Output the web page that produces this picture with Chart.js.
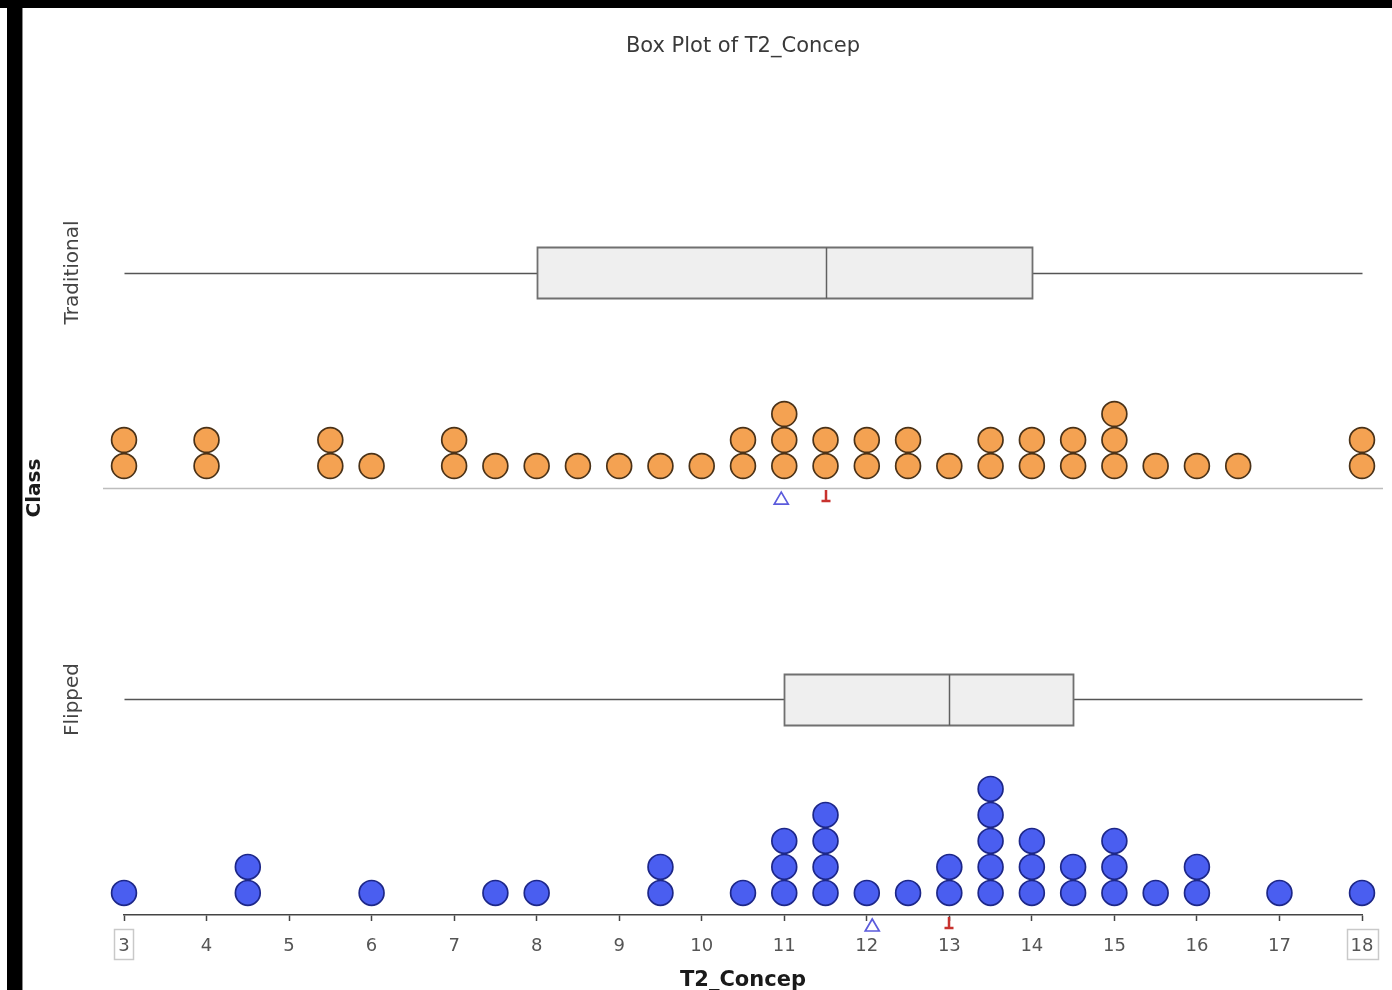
<!DOCTYPE html>
<html>
<head>
<meta charset="utf-8">
<title>Box Plot of T2_Concep</title>
<script src="https://cdn.jsdelivr.net/npm/chart.js@4.4.1/dist/chart.umd.min.js"></script>
<style>
  html, body { margin: 0; padding: 0; background: #fff; }
  body { width: 1392px; height: 990px; position: relative; overflow: hidden; }
  #topbar { position: absolute; left: 0; top: 0; width: 1392px; height: 8px; background: #000; }
  #leftbar { position: absolute; left: 7px; top: 0; width: 15px; height: 990px; background: #000; }
  #leftedge { position: absolute; left: 22px; top: 8px; width: 1px; height: 982px; background: #8a8a8a; }
  #wrap { position: absolute; left: 23px; top: 8px; width: 1369px; height: 982px; }
</style>
</head>
<body>
<div id="topbar"></div>
<div id="leftbar"></div>
<div id="leftedge"></div>
<div id="wrap"><canvas id="chart" width="1369" height="982"></canvas></div>
<script>
// ---- data ----
const classNames = ['Traditional', 'Flipped'];

// individual T2_Concep scores per class
const traditionalScores = [3, 3, 4, 4, 5.5, 5.5, 6, 7, 7, 7.5, 8, 8.5, 9, 9.5, 10,
  10.5, 10.5, 11, 11, 11, 11.5, 11.5, 12, 12, 12.5, 12.5, 13, 13.5, 13.5, 14, 14,
  14.5, 14.5, 15, 15, 15, 15.5, 16, 16.5, 18, 18];
const flippedScores = [3, 4.5, 4.5, 6, 7.5, 8, 9.5, 9.5, 10.5, 11, 11, 11,
  11.5, 11.5, 11.5, 11.5, 12, 12.5, 13, 13, 13.5, 13.5, 13.5, 13.5, 13.5,
  14, 14, 14, 14.5, 14.5, 15, 15, 15, 15.5, 16, 16, 17, 18];

// five-number summaries: [min, Q1, median, Q3, max]
const traditionalBox = [3, 8, 11.5, 14, 18];
const flippedBox = [3, 11, 13, 14.5, 18];

// x axis range / tick step
const xRange = [3, 18];
const xStep = 1;
const boxedTicks = [3, 18];

// ---- layout (y scale measured in dot rows) ----
const Y_MAX = 854 / 26;   // plot height in rows
const BAND = 16.42;       // rows per class band
const DOT0 = 0.85;        // first dot row above the band baseline
const BOX_MID = 8.29;     // box centre above the band baseline
const BOX_HALF = 0.98;    // half box height

const FONT = 'DejaVu Sans';

function mean(a) { return a.reduce((s, v) => s + v, 0) / a.length; }

function stackDots(scores, base) {
  const seen = {};
  return scores.map(v => {
    const k = seen[v] || 0;
    seen[v] = k + 1;
    return { x: v, y: base + DOT0 + k };
  });
}

const groups = [
  { name: classNames[0], base: BAND, scores: traditionalScores, box: traditionalBox },
  { name: classNames[1], base: 0, scores: flippedScores, box: flippedBox }
];

const boxPlotLayer = {
  id: 'boxPlotLayer',
  beforeDatasetsDraw(chart) {
    const { ctx, scales: { x, y } } = chart;
    ctx.save();
    // baseline under the Traditional dots
    const sepY = Math.round(y.getPixelForValue(BAND)) + 0.5;
    ctx.strokeStyle = '#bdbdbd';
    ctx.lineWidth = 1.5;
    ctx.beginPath();
    ctx.moveTo(x.left - 21, sepY);
    ctx.lineTo(x.right + 21, sepY);
    ctx.stroke();

    groups.forEach(g => {
      const [mn, q1, med, q3, mx] = g.box;
      const cy = Math.round(y.getPixelForValue(g.base + BOX_MID)) + 0.5;
      const top = Math.round(y.getPixelForValue(g.base + BOX_MID + BOX_HALF)) + 0.5;
      const bot = Math.round(y.getPixelForValue(g.base + BOX_MID - BOX_HALF)) + 0.5;
      const px = v => Math.round(x.getPixelForValue(v)) + 0.5;

      ctx.strokeStyle = '#555';
      ctx.lineWidth = 1.5;
      ctx.beginPath();
      ctx.moveTo(px(mn), cy); ctx.lineTo(px(q1), cy);
      ctx.moveTo(px(q3), cy); ctx.lineTo(px(mx), cy);
      ctx.stroke();

      ctx.fillStyle = '#efefef';
      ctx.strokeStyle = '#707070';
      ctx.lineWidth = 1.8;
      ctx.beginPath();
      ctx.rect(px(q1), top, px(q3) - px(q1), bot - top);
      ctx.fill();
      ctx.stroke();

      ctx.strokeStyle = '#606060';
      ctx.lineWidth = 1.5;
      ctx.beginPath();
      ctx.moveTo(px(med), top); ctx.lineTo(px(med), bot);
      ctx.stroke();
    });
    ctx.restore();
  },
  afterDatasetsDraw(chart) {
    const { ctx, scales: { x, y } } = chart;
    ctx.save();
    groups.forEach(g => {
      const baseY = y.getPixelForValue(g.base);
      // mean: hollow triangle
      const mx = x.getPixelForValue(mean(g.scores));
      ctx.strokeStyle = '#5b5bdc';
      ctx.lineWidth = 1.7;
      ctx.lineJoin = 'miter';
      ctx.beginPath();
      ctx.moveTo(mx, baseY + 4);
      ctx.lineTo(mx + 7, baseY + 16);
      ctx.lineTo(mx - 7, baseY + 16);
      ctx.closePath();
      ctx.stroke();
      // median: red marker
      const md = Math.round(x.getPixelForValue(g.box[2]));
      ctx.strokeStyle = '#c8322e';
      ctx.lineWidth = 2.5;
      ctx.beginPath();
      ctx.moveTo(md, baseY + 2);
      ctx.lineTo(md, baseY + 13);
      ctx.moveTo(md - 4.5, baseY + 13);
      ctx.lineTo(md + 4.5, baseY + 13);
      ctx.stroke();

      // class label beside the box
      const cy = y.getPixelForValue(g.base + BOX_MID);
      ctx.save();
      ctx.translate(50, cy);
      ctx.rotate(-Math.PI / 2);
      ctx.font = '20px "' + FONT + '"';
      ctx.fillStyle = '#444';
      ctx.textAlign = 'center';
      ctx.textBaseline = 'middle';
      ctx.fillText(g.name, 0, 0);
      ctx.restore();
    });

    // frames around the range-end tick labels
    ctx.font = '18px "' + FONT + '"';
    ctx.strokeStyle = '#c9c9c9';
    ctx.lineWidth = 1.5;
    boxedTicks.forEach(v => {
      const cx = x.getPixelForValue(v);
      const w = ctx.measureText(String(v)).width + 8;
      ctx.strokeRect(Math.round(cx - w / 2) + 0.5, 921.5, Math.round(w), 30);
    });
    ctx.restore();
  }
};

new Chart(document.getElementById('chart'), {
  type: 'scatter',
  data: {
    datasets: [
      {
        label: classNames[0],
        data: stackDots(traditionalScores, BAND),
        backgroundColor: '#f4a252',
        borderColor: '#4a3218',
        borderWidth: 1.7,
        pointRadius: 12.4,
        clip: false
      },
      {
        label: classNames[1],
        data: stackDots(flippedScores, 0),
        backgroundColor: '#4a5ef0',
        borderColor: '#1d2788',
        borderWidth: 1.7,
        pointRadius: 12.4,
        clip: false
      }
    ]
  },
  options: {
    responsive: false,
    animation: false,
    events: [],
    layout: { padding: { left: 0, right: 30, top: 0, bottom: 0 } },
    plugins: {
      legend: { display: false },
      tooltip: { enabled: false },
      title: {
        display: true,
        text: 'Box Plot of T2_Concep',
        fullSize: false,
        color: '#3a3a3a',
        font: { family: FONT, size: 21, weight: 'normal', lineHeight: 1.2 },
        padding: { top: 26.4, bottom: 1.4 }
      }
    },
    scales: {
      x: {
        type: 'linear',
        min: xRange[0],
        max: xRange[1],
        afterFit(scale) { scale.height = 75; },
        ticks: {
          stepSize: xStep,
          color: '#555',
          padding: 15,
          font: { family: FONT, size: 18, lineHeight: 1.2 }
        },
        grid: {
          drawOnChartArea: false,
          drawTicks: true,
          tickLength: 6,
          tickColor: '#444',
          tickWidth: 1.5
        },
        border: { display: true, color: '#444', width: 1.5 },
        title: {
          display: true,
          text: 'T2_Concep',
          color: '#1a1a1a',
          font: { family: FONT, size: 21, weight: 'bold', lineHeight: 0.9 },
          padding: { top: 0, bottom: 0 }
        }
      },
      y: {
        type: 'linear',
        min: 0,
        max: Y_MAX,
        afterFit(scale) { scale.width = 101; },
        ticks: { display: false },
        grid: { display: false },
        border: { display: false },
        title: {
          display: true,
          text: 'Class',
          color: '#1a1a1a',
          font: { family: FONT, size: 20, weight: 'bold', lineHeight: 1.2 },
          padding: { top: 0, bottom: 0 }
        }
      }
    }
  },
  plugins: [boxPlotLayer]
});
</script>
</body>
</html>
